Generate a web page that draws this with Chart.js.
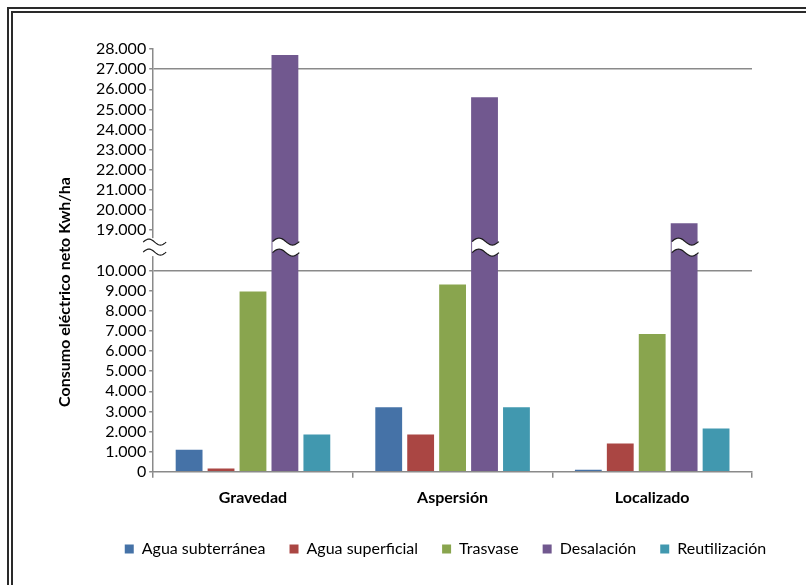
<!DOCTYPE html>
<html lang="es">
<head>
  <meta charset="UTF-8" />
  <title>Consumo eléctrico neto por sistema de riego</title>
  <script src="https://cdn.jsdelivr.net/npm/chart.js"></script>
  <style>
    body {
      margin: 0;
      background: #fff;
      overflow: hidden;
    }
    .wrap {
      position: relative;
      width: 806px;
      height: 585px;
    }
    .marco {
      position: absolute;
      left: 7px;
      top: 7px;
      width: 1200px;
      height: 1200px;
      border-left: 6px double #2a2a2a;
      border-top: 6px double #2a2a2a;
      pointer-events: none;
    }
  </style>
</head>
<body>
  <div class="wrap">
    <canvas id="consumo" width="806" height="585"></canvas>
    <div class="marco"></div>
  </div>

  <script>
    // Kwh/ha por sistema de riego y origen del agua
    const sistemas = ["Gravedad", "Aspersión", "Localizado"];
    const subterranea = [1100, 3200, 100];
    const superficial = [160, 1850, 1400];
    const trasvase = [8950, 9300, 6850];
    const desalacion = [27700, 25600, 19350];
    const reutilizacion = [1850, 3200, 2150];

    // eje cortado: 0-10.000 abajo, 19.000-28.000 arriba
    const corteBajo = 10000;
    const corteAlto = 19000;
    const hueco = 2000;           // espacio que ocupa el corte en el eje
    const marcasBajas = [0, 1000, 2000, 3000, 4000, 5000, 6000, 7000, 8000, 9000, 10000];
    const marcasAltas = [19000, 20000, 21000, 22000, 23000, 24000, 25000, 26000, 27000, 28000];
    const lineasGuia = [10000, 27000];

    const salto = corteAlto - corteBajo - hueco;
    const aEje = v => (v <= corteBajo ? v : v - salto);
    const deEje = v => (v <= corteBajo ? v : v + salto);
    const miles = n => String(n).replace(/\B(?=(\d{3})+(?!\d))/g, ".");
    const marcasEje = marcasBajas.concat(marcasAltas).map(aEje);

    const colores = ["#4572A7", "#AA4643", "#89A54E", "#71588F", "#4198AF"];
    const gris = "#8a8a8a";
    const fuente = "Lato, 'Open Sans', sans-serif";

    function serie(label, datos, color) {
      return {
        label: label,
        data: datos.map(aEje),
        backgroundColor: color,
        borderWidth: 0,
        categoryPercentage: 0.8,
        barPercentage: 0.84
      };
    }

    // onda blanca con borde oscuro para marcar el corte
    function onda(ctx, x0, x1, yc, amp, grueso) {
      const pasos = 24;
      const curva = (base) => {
        const pts = [];
        for (let i = 0; i <= pasos; i++) {
          const t = i / pasos;
          pts.push([x0 + (x1 - x0) * t, base - amp * Math.sin(2 * Math.PI * t)]);
        }
        return pts;
      };
      const arriba = curva(yc - grueso / 2);
      const abajo = curva(yc + grueso / 2);
      ctx.beginPath();
      arriba.forEach((p, i) => (i ? ctx.lineTo(p[0], p[1]) : ctx.moveTo(p[0], p[1])));
      abajo.slice().reverse().forEach(p => ctx.lineTo(p[0], p[1]));
      ctx.closePath();
      ctx.fillStyle = "#fff";
      ctx.fill();
      ctx.strokeStyle = "#1a1a1a";
      ctx.lineWidth = 1.2;
      [arriba, abajo].forEach(c => {
        ctx.beginPath();
        c.forEach((p, i) => (i ? ctx.lineTo(p[0], p[1]) : ctx.moveTo(p[0], p[1])));
        ctx.stroke();
      });
    }

    const cortePlugin = {
      id: "corte",
      afterDatasetsDraw(chart) {
        const ctx = chart.ctx;
        const y = chart.scales.y;
        const yc = y.getPixelForValue(corteBajo + hueco * 0.58);
        ctx.save();
        // corte en las barras que superan el tramo inferior
        chart.data.datasets.forEach((ds, i) => {
          chart.getDatasetMeta(i).data.forEach((bar, j) => {
            if (deEje(ds.data[j]) > corteBajo) {
              const w = bar.width;
              onda(ctx, bar.x - w / 2 + 1, bar.x + w / 2 + 1, yc, 3.5, 11);
            }
          });
        });
        // corte sobre el eje vertical
        ctx.fillStyle = "#fff";
        ctx.fillRect(y.right - 4, yc - 9, 8, 18);
        onda(ctx, y.right - 10, y.right + 13, yc, 3, 10);
        ctx.restore();
      },
      afterDraw(chart) {
        const ctx = chart.ctx;
        ctx.save();
        ctx.translate(65, 292);
        ctx.rotate(-Math.PI / 2);
        ctx.textAlign = "center";
        ctx.textBaseline = "middle";
        ctx.fillStyle = "#000";
        ctx.font = "bold 16px " + fuente;
        ctx.fillText("Consumo eléctrico neto Kwh/ha", 0, 0);
        ctx.restore();
      }
    };

    new Chart(document.getElementById("consumo"), {
      type: "bar",
      data: {
        labels: sistemas,
        datasets: [
          serie("Agua subterránea", subterranea, colores[0]),
          serie("Agua superficial", superficial, colores[1]),
          serie("Trasvase", trasvase, colores[2]),
          serie("Desalación", desalacion, colores[3]),
          serie("Reutilización", reutilizacion, colores[4])
        ]
      },
      options: {
        responsive: false,
        animation: false,
        layout: { padding: { left: 93, right: 8, top: 49, bottom: 18 } },
        plugins: {
          tooltip: { enabled: false },
          legend: {
            position: "bottom",
            labels: {
              boxWidth: 9,
              boxHeight: 9,
              padding: 24,
              color: "#000",
              font: { family: fuente, size: 16 }
            }
          }
        },
        scales: {
          x: {
            grid: {
              drawOnChartArea: false,
              tickLength: 6,
              color: gris,
              lineWidth: 1.5
            },
            border: { color: gris, width: 1.5 },
            ticks: {
              padding: 10,
              color: "#000",
              font: { family: fuente, size: 16, weight: "bold" }
            }
          },
          y: {
            min: 0,
            max: aEje(28000),
            afterBuildTicks: scale => {
              scale.ticks = marcasEje.map(v => ({ value: v }));
            },
            grid: {
              tickLength: 4,
              lineWidth: 1.5,
              color: c => (lineasGuia.map(aEje).includes(c.tick.value) ? gris : "rgba(0,0,0,0)"),
              tickColor: gris
            },
            border: { color: gris, width: 1.5 },
            ticks: {
              autoSkip: false,
              padding: 3,
              color: "#000",
              font: { family: fuente, size: 16 },
              callback: v => miles(deEje(v))
            }
          },
          // margen derecho vacío, deja la leyenda más ancha que el área de barras
          margen: {
            type: "linear",
            position: "right",
            grid: { display: false },
            border: { display: false },
            ticks: { display: false },
            afterFit: s => { s.width = 46; }
          }
        }
      },
      plugins: [cortePlugin]
    });
  </script>
</body>
</html>
